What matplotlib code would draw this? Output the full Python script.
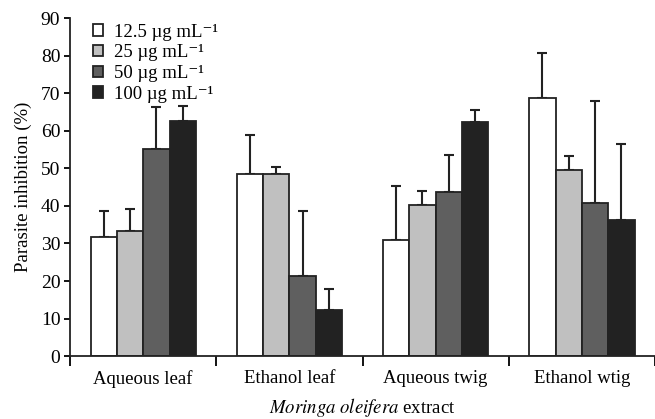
import matplotlib
matplotlib.use("Agg")
import matplotlib.pyplot as plt
import numpy as np

plt.rcParams['font.family'] = ['Liberation Serif', 'DejaVu Serif']
plt.rcParams['mathtext.fontset'] = 'stix'

categories = ["Aqueous leaf", "Ethanol leaf", "Aqueous twig", "Ethanol wtig"]
series_labels = ["12.5 µg mL⁻¹", "25 µg mL⁻¹", "50 µg mL⁻¹", "100 µg mL⁻¹"]
means = [
    [31.8, 48.5, 30.8, 68.6],   # 12.5
    [33.3, 48.5, 40.3, 49.5],   # 25
    [55.2, 21.4, 43.6, 40.7],   # 50
    [62.7, 12.2, 62.4, 36.3],   # 100
]
err_tops = [
    [38.7, 58.9, 45.4, 80.8],
    [39.1, 50.4, 44.0, 53.4],
    [66.3, 38.6, 53.6, 67.8],
    [66.7, 17.8, 65.6, 56.5],
]
colors = ["#ffffff", "#c0c0c0", "#5f5f5f", "#222222"]

fig = plt.figure(figsize=(6.55, 4.19), dpi=100)
ax = fig.add_axes([0.107, 0.150, 0.893, 0.807])

x = np.arange(len(categories))
w = 0.18
for i in range(4):
    pos = x + (i - 1.5) * w
    m = np.array(means[i])
    e = np.array(err_tops[i]) - m
    ax.bar(pos, m, width=w, color=colors[i], edgecolor="#222222", linewidth=1.3,
           label=series_labels[i], zorder=2)
    ax.errorbar(pos, m, yerr=[np.zeros_like(e), e], fmt='none', ecolor="#222222",
                elinewidth=1.5, capsize=3.5, capthick=1.5, zorder=1)

ax.set_xlim(-0.5, 3.45)
ax.set_ylim(0, 90)
ax.set_yticks(np.arange(0, 91, 10))
ax.set_xticks(np.arange(-0.5, 3.6, 1.0))
ax.set_xticklabels([])
ax.set_xticks(x, minor=True)
ax.set_xticklabels(categories, minor=True)
ax.tick_params(axis='x', which='major', length=7, width=1.3, direction='out')
ax.tick_params(axis='x', which='minor', length=0, pad=10, labelsize=13.5)
ax.tick_params(axis='y', length=4, width=1.3, direction='out', labelsize=14, pad=3)
for s in ['top', 'right']:
    ax.spines[s].set_visible(False)
for s in ['left', 'bottom']:
    ax.spines[s].set_linewidth(1.3)
    ax.spines[s].set_color("#222222")

ax.set_ylabel("Parasite inhibition (%)", fontsize=13.5, labelpad=6)
ax.set_xlabel(r"$\it{Moringa\ oleifera}$ extract", fontsize=13.5, labelpad=6)

leg = ax.legend(loc='upper left', bbox_to_anchor=(0.02, 1.017), frameon=False,
                fontsize=13.5, handlelength=0.55, handleheight=0.55, handletextpad=0.55,
                labelspacing=0.2, borderaxespad=0.2)

fig.savefig("out.png", dpi=100)
